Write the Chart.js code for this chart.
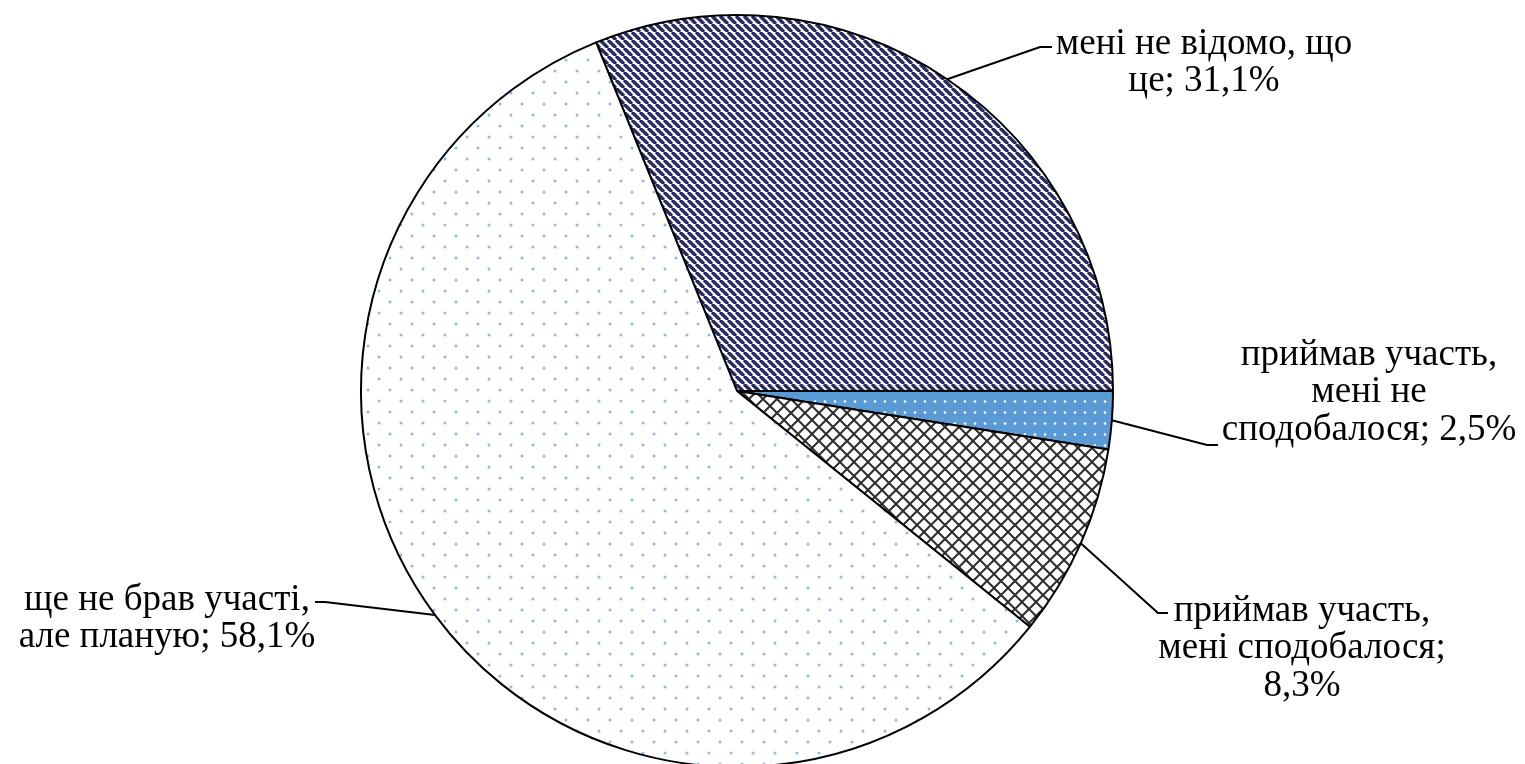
<!DOCTYPE html>
<html>
<head>
<meta charset="utf-8">
<script src="https://cdn.jsdelivr.net/npm/chart.js@4/dist/chart.umd.min.js"></script>
<style>
  html, body { margin: 0; padding: 0; background: #fff; overflow: hidden; }
  #wrap { width: 1525px; height: 782px; position: relative; }
</style>
</head>
<body>
<div id="wrap"><canvas id="pieChart"></canvas></div>
<script>
// ===================== DATA =====================
const categories = [
  'мені не відомо, що це',
  'приймав участь, мені не сподобалося',
  'приймав участь, мені сподобалося',
  'ще не брав участі, але планую'
];
const shares = [31.1, 2.5, 8.3, 58.1];
// label text as it is wrapped on the picture, {v} = value
const labelLines = [
  ['мені не відомо, що', 'це; {v}'],
  ['приймав участь,', 'мені не', 'сподобалося; {v}'],
  ['приймав участь,', 'мені сподобалося;', '{v}'],
  ['ще не брав участі,', 'але планую; {v}']
];

// ===================== LABEL LAYOUT =====================
// x/y = centre of first text line, ex/ey = leader elbow, hx = end of short horizontal bit
const labelPos = [
  { x: 1204, y: 44, ex: 1040, ey: 47, hx: 1052 },
  { x: 1369, y: 355, ex: 1207, ey: 445, hx: 1218 },
  { x: 1302, y: 611, ex: 1158, ey: 613, hx: 1168 },
  { x: 167, y: 600, ex: 325, ey: 602, hx: 315 }
];
const LINE_H = 37.5;
const FONT = '37px "Liberation Serif", "Times New Roman", serif';

function fmtPct(v) {
  return v.toFixed(1).replace('.', ',') + '%';
}

// ===================== PATTERNS =====================
function makeTile(w, h, draw) {
  const c = document.createElement('canvas');
  c.width = w; c.height = h;
  const g = c.getContext('2d');
  draw(g, w, h);
  return document.createElement('canvas').getContext('2d').createPattern(c, 'repeat');
}

// navy diagonal stripes
const navyStripes = makeTile(8, 8, (g, w, h) => {
  g.fillStyle = '#ffffff';
  g.fillRect(0, 0, w, h);
  g.strokeStyle = '#272a63';
  g.lineWidth = 3.4;
  [-w, 0, w].forEach(off => {
    g.beginPath();
    g.moveTo(off, 0);
    g.lineTo(off + w, h);
    g.stroke();
  });
});

// blue with white dots
const blueDots = makeTile(10, 11, (g, w, h) => {
  g.fillStyle = '#5b9bd5';
  g.fillRect(0, 0, w, h);
  g.fillStyle = '#ffffff';
  g.beginPath();
  g.arc(5, 5.5, 1.3, 0, Math.PI * 2);
  g.fill();
});

// diagonal cross hatch
const crossHatch = makeTile(14, 14, (g, w, h) => {
  g.fillStyle = '#ffffff';
  g.fillRect(0, 0, w, h);
  g.strokeStyle = '#2e2e2e';
  g.lineWidth = 2;
  [-w, 0, w].forEach(off => {
    g.beginPath();
    g.moveTo(off, 0);
    g.lineTo(off + w, h);
    g.stroke();
    g.beginPath();
    g.moveTo(off, h);
    g.lineTo(off + w, 0);
    g.stroke();
  });
});

// sparse light blue dots
const lightDots = makeTile(22, 22, (g, w, h) => {
  g.fillStyle = '#ffffff';
  g.fillRect(0, 0, w, h);
  g.fillStyle = '#8fb8e2';
  g.beginPath();
  g.arc(5, 5, 1.5, 0, Math.PI * 2);
  g.arc(16, 16, 1.5, 0, Math.PI * 2);
  g.fill();
});

// ===================== LABEL PLUGIN =====================
const pieLabels = {
  id: 'pieLabels',
  afterDraw(chart) {
    const ctx = chart.ctx;
    const meta = chart.getDatasetMeta(0);
    ctx.save();
    ctx.font = FONT;
    ctx.fillStyle = '#000';
    ctx.textAlign = 'center';
    ctx.textBaseline = 'middle';
    ctx.strokeStyle = '#000';
    ctx.lineWidth = 2;
    meta.data.forEach((arc, i) => {
      const p = arc.getProps(['x', 'y', 'startAngle', 'endAngle', 'outerRadius'], true);
      const mid = (p.startAngle + p.endAngle) / 2;
      const sx = p.x + Math.cos(mid) * p.outerRadius;
      const sy = p.y + Math.sin(mid) * p.outerRadius;
      const pos = labelPos[i];
      ctx.beginPath();
      ctx.moveTo(sx, sy);
      ctx.lineTo(pos.ex, pos.ey);
      ctx.lineTo(pos.hx, pos.ey);
      ctx.stroke();
      labelLines[i].forEach((line, k) => {
        ctx.fillText(line.replace('{v}', fmtPct(shares[i])), pos.x, pos.y + k * LINE_H);
      });
    });
    ctx.restore();
  }
};

// ===================== CHART =====================
new Chart(document.getElementById('pieChart'), {
  type: 'pie',
  data: {
    labels: categories,
    datasets: [{
      data: shares,
      backgroundColor: [navyStripes, blueDots, crossHatch, lightDots],
      borderColor: '#000000',
      borderWidth: 2,
      borderAlign: 'center'
    }]
  },
  options: {
    responsive: true,
    maintainAspectRatio: false,
    animation: false,
    rotation: -22,
    layout: { padding: { left: 360, right: 411, top: 14, bottom: 14 } },
    plugins: {
      legend: { display: false },
      tooltip: { enabled: false }
    }
  },
  plugins: [pieLabels]
});
</script>
</body>
</html>
